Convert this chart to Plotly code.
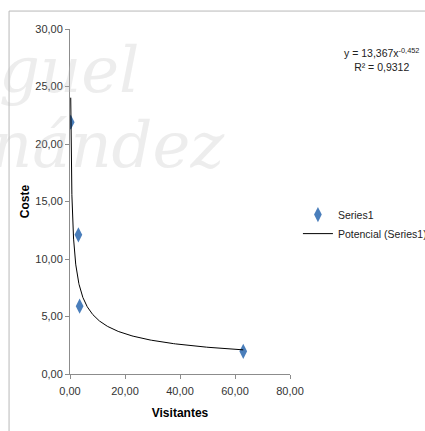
import numpy as np
import plotly.graph_objects as go

# Data
visitantes = [0.26, 3.05, 3.5, 63.0]
coste = [21.9, 12.1, 5.9, 1.97]
x_ticks = [0, 20, 40, 60, 80]
y_ticks = [0, 5, 10, 15, 20, 25, 30]
equation_text = "y = 13,367x<sup>-0,452</sup><br>R² = 0,9312"

# Power trendline fitted (log-log least squares) like Excel's "Potencial"
lx, ly = np.log(visitantes), np.log(coste)
b, ln_a = np.polyfit(lx, ly, 1)
a = np.exp(ln_a)
xt = np.geomspace(min(visitantes), max(visitantes), 300)
yt = a * xt ** b

font = "Liberation Sans, Arial, sans-serif"

fig = go.Figure()
fig.add_trace(go.Scatter(x=visitantes, y=coste, mode="markers", name="Series1",
                         marker=dict(symbol="diamond-tall", size=11, color="#4A7EBB",
                                     line=dict(width=0))))
fig.add_trace(go.Scatter(x=xt, y=yt, mode="lines", name="Potencial (Series1)",
                         line=dict(color="#000000", width=1)))

# faint watermark
wm = dict(xref="paper", yref="paper", showarrow=False,
          font=dict(family="DejaVu Serif, serif", size=64, color="rgba(190,190,190,0.28)"))
fig.add_annotation(text="<i>guel</i>", x=-0.33, y=0.88, xanchor="left", yanchor="middle", **wm)
fig.add_annotation(text="<i>nández</i>", x=-0.37, y=0.665, xanchor="left", yanchor="middle", **wm)

fig.add_annotation(text=equation_text, xref="paper", yref="paper", x=1.418, y=0.912,
                   xanchor="center", yanchor="middle", showarrow=False, align="center",
                   font=dict(family=font, size=10.5, color="#222222"))

# chart-area border (top and left)
fig.add_shape(type="line", xref="paper", yref="paper", x0=-0.277, x1=1.7, y0=1.052, y1=1.052,
              line=dict(color="#b8b8b8", width=1))
fig.add_shape(type="line", xref="paper", yref="paper", x0=-0.277, x1=-0.277, y0=1.052, y1=-0.2,
              line=dict(color="#b8b8b8", width=1))

fig.update_layout(
    width=425, height=431,
    margin=dict(l=70, r=135, t=29, b=57, autoexpand=False),
    paper_bgcolor="white", plot_bgcolor="white",
    separators=",.",
    font=dict(family=font, size=11, color="#333333"),
    showlegend=True,
    legend=dict(xref="container", yref="container", x=0.701, y=0.480,
                xanchor="left", yanchor="middle",
                font=dict(family=font, size=10.5, color="#222222"),
                bgcolor="rgba(0,0,0,0)", itemwidth=30, tracegroupgap=2),
    xaxis=dict(range=[0, 80], tickvals=x_ticks, tickformat=".2f",
               showgrid=False, zeroline=False, showline=True, linecolor="#8c8c8c",
               ticks="outside", ticklen=4, tickcolor="#8c8c8c", ticklabelstandoff=3,
               title=dict(text="<b>Visitantes</b>", standoff=12,
                          font=dict(family=font, size=12, color="#000000"))),
    yaxis=dict(range=[0, 30], tickvals=y_ticks, tickformat=".2f",
               showgrid=False, zeroline=False, showline=True, linecolor="#8c8c8c",
               ticks="outside", ticklen=4, tickcolor="#8c8c8c",
               title=dict(text="<b>Coste</b>", standoff=3,
                          font=dict(family=font, size=12, color="#000000"))),
)

fig.write_html("out.html", config={"displayModeBar": False},
               post_script="document.body.style.margin='0';document.body.style.overflow='hidden';")
